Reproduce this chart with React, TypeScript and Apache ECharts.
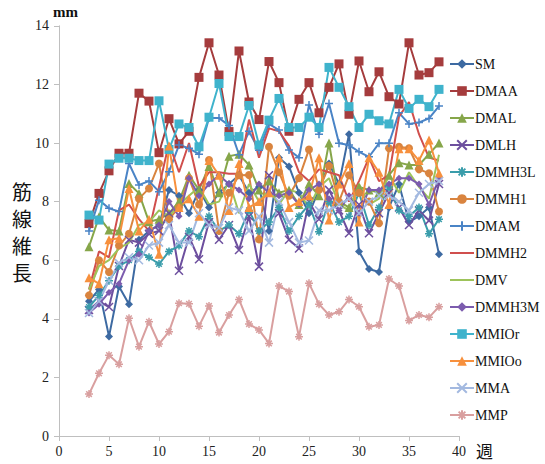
import React, { useEffect, useRef } from "react";
import * as echarts from "echarts";

const weeks = [3,4,5,6,7,8,9,10,11,12,13,14,15,16,17,18,19,20,21,22,23,24,25,26,27,28,29,30,31,32,33,34,35,36,37,38];

const seriesNames = ["SM","DMAA","DMAL","DMLH","DMMH3L","DMMH1","DMAM","DMMH2","DMV","DMMH3M","MMIOr","MMIOo","MMA","MMP"];

const SM = [4.6,5.0,3.4,5.1,4.5,6.7,7.0,7.2,8.4,8.2,7.6,8.4,7.8,8.3,8.6,8.9,8.3,8.5,7.0,9.5,9.2,8.3,7.6,8.4,9.3,8.6,10.3,6.3,5.7,5.6,7.8,8.6,7.3,7.5,7.8,6.2];
const DMAA = [7.25,8.28,9.05,9.65,9.65,11.7,11.43,9.67,10.83,9.97,10.4,12.24,13.42,12.32,10.39,13.14,11.4,10.8,12.78,12.06,10.4,11.49,12.06,11.03,11.9,12.7,10.98,12.8,11.75,12.43,11.58,11.33,13.42,12.32,12.4,12.77];
const DMAL = [6.46,7.48,7.03,7.0,8.62,8.28,7.31,7.4,7.6,8.0,8.9,8.4,9.2,8.3,9.55,9.62,9.25,8.4,8.7,8.3,8.4,7.9,8.6,8.2,10.0,8.0,7.8,8.5,8.4,8.3,8.9,9.33,9.25,9.25,9.62,10.0];
const DMLH = [4.3,4.6,4.4,5.8,6.7,6.6,6.9,7.0,7.6,5.64,6.8,6.03,7.3,6.7,7.2,6.35,7.5,5.78,8.9,7.6,6.7,6.4,8.0,7.4,8.4,7.7,6.92,7.9,6.92,7.6,8.3,7.8,7.2,7.7,7.35,8.6];
const DMMH3L = [4.4,4.8,5.3,5.8,6.0,6.3,6.1,5.87,6.3,6.5,7.0,6.8,7.5,7.0,7.2,6.9,7.7,7.0,7.3,7.8,7.0,7.5,7.9,6.97,8.0,7.3,7.5,8.3,7.2,7.8,8.5,7.7,7.5,7.8,6.9,7.4];
const DMMH1 = [4.8,6.0,5.6,6.5,6.9,8.1,8.45,9.3,7.4,7.8,8.8,7.9,9.42,7.0,8.3,8.9,8.91,6.71,9.87,9.0,8.2,8.8,9.78,8.4,9.22,8.0,8.9,8.3,8.0,7.26,9.82,9.87,9.82,9.1,8.97,7.66];
const DMAM = [7.0,8.05,7.77,7.66,9.3,8.57,8.7,8.34,9.02,9.93,9.82,9.62,10.85,10.85,10.6,9.6,10.4,9.75,10.65,10.44,9.76,9.5,11.3,10.3,11.35,9.99,9.93,9.7,9.53,9.99,9.99,11.03,10.65,10.7,10.84,11.26];
const DMMH2 = [5.0,6.3,6.1,7.7,7.9,7.4,7.0,8.5,10.0,9.0,10.0,8.5,9.0,9.0,8.95,8.95,10.8,9.5,10.5,10.4,9.9,9.0,8.7,9.1,9.0,8.9,8.0,8.7,9.5,8.7,8.9,10.9,11.4,10.3,9.5,9.4];
const DMV = [5.0,5.8,6.0,6.4,6.6,7.2,7.3,7.7,7.5,7.9,8.2,8.5,7.9,8.0,8.7,7.6,8.6,8.0,8.4,7.9,8.4,8.3,7.8,8.5,8.8,7.9,7.7,8.6,7.9,8.1,8.9,8.3,9.0,8.5,8.1,9.6];
const DMMH3M = [4.2,4.5,4.9,5.2,6.0,6.2,7.0,7.2,8.0,7.5,8.8,8.2,8.6,8.9,8.6,8.4,8.1,8.6,8.3,8.2,8.3,7.9,8.4,8.6,8.1,7.7,8.2,7.6,8.4,8.4,8.6,8.8,8.8,8.6,7.9,8.8];
const MMIOr = [7.54,7.37,9.28,9.48,9.48,9.4,9.4,11.44,9.78,10.65,10.53,9.87,10.88,12.03,10.22,10.22,11.28,9.93,10.78,11.52,10.53,10.53,10.88,10.53,12.58,11.9,11.24,10.53,10.98,10.76,10.65,11.83,11.18,11.49,11.24,11.83];
const MMIOo = [5.4,5.2,6.7,6.75,8.45,7.0,7.4,6.2,9.9,7.8,8.1,7.5,9.4,8.9,7.7,9.3,7.8,8.0,8.3,9.5,7.8,8.0,8.2,9.5,7.37,8.6,9.3,7.3,9.5,9.0,7.9,9.8,9.8,9.4,10.1,8.97];
const MMA = [4.2,4.6,5.3,5.9,6.1,6.0,6.5,6.6,7.2,6.6,6.6,7.6,7.2,7.1,7.8,7.7,7.0,7.5,6.6,8.0,7.3,6.6,6.67,7.7,7.7,7.9,8.1,7.6,8.0,8.2,8.2,8.0,7.7,8.3,8.6,8.7];
const MMP = [1.43,2.14,2.76,2.45,4.02,3.05,3.9,3.14,3.56,4.53,4.51,3.75,4.44,3.53,4.13,4.66,3.82,3.62,3.16,5.12,4.93,3.39,5.21,4.5,4.13,4.24,4.66,4.41,3.73,3.79,5.36,5.12,3.94,4.13,4.05,4.41];

const seriesValues = [SM, DMAA, DMAL, DMLH, DMMH3L, DMMH1, DMAM, DMMH2, DMV, DMMH3M, MMIOr, MMIOo, MMA, MMP];

const yTicks = [0, 2, 4, 6, 8, 10, 12, 14];
const xTicks = [0, 5, 10, 15, 20, 25, 30, 35, 40];

const X_PATH = "path://M1,1L9,9M9,1L1,9";
const PLUS_PATH = "path://M5,0L5,10M0,5L10,5";
const STAR_PATH = "path://M5,0L5,10M0,5L10,5M1.5,1.5L8.5,8.5M8.5,1.5L1.5,8.5";

const styles = [
  { color: "#3d6aa2", symbol: "diamond", size: 8, stroke: false },
  { color: "#a53c3d", symbol: "rect", size: 9, stroke: false },
  { color: "#86a64a", symbol: "triangle", size: 9, stroke: false },
  { color: "#6d4f9e", symbol: X_PATH, size: 8, stroke: true },
  { color: "#3a9dab", symbol: STAR_PATH, size: 8, stroke: true },
  { color: "#d9843f", symbol: "circle", size: 8, stroke: false },
  { color: "#4a84c6", symbol: PLUS_PATH, size: 8, stroke: true },
  { color: "#d04f4d", symbol: "none", size: 0, stroke: false },
  { color: "#9dc35a", symbol: "none", size: 0, stroke: false },
  { color: "#7c5cae", symbol: "diamond", size: 7, stroke: false },
  { color: "#3fb3cc", symbol: "rect", size: 9, stroke: false },
  { color: "#f7903d", symbol: "triangle", size: 9, stroke: false },
  { color: "#a3b9e0", symbol: X_PATH, size: 8, stroke: true },
  { color: "#d99f9f", symbol: STAR_PATH, size: 8, stroke: true },
];

const FONT = "'Liberation Serif', 'DejaVu Serif', serif";

export default function App() {
  const ref = useRef<HTMLDivElement>(null);
  useEffect(() => {
    if (!ref.current) return;
    const chart = echarts.init(ref.current, null, { renderer: "svg" });
    const series = seriesNames.map((name, i) => {
      const s = styles[i];
      return {
        name,
        type: "line",
        data: weeks.map((w, j) => [w, seriesValues[i][j]]),
        symbol: s.symbol,
        symbolSize: s.size,
        showSymbol: s.symbol !== "none",
        lineStyle: { color: s.color, width: 2 },
        itemStyle: {
          color: s.color,
          borderColor: s.color,
          borderWidth: s.stroke ? 1.5 : 0,
        },
        emphasis: { disabled: true },
      };
    });
    const legendData = seriesNames.map((name, i) =>
      styles[i].symbol === "none"
        ? { name, itemStyle: { color: "rgba(0,0,0,0)", borderWidth: 0, opacity: 0 } }
        : { name }
    );
    chart.setOption({
      animation: false,
      grid: { left: 59, right: 86, top: 25.8, bottom: 28, containLabel: false },
      xAxis: {
        type: "value",
        min: 0,
        max: 40,
        interval: 5,
        axisLine: { show: true, lineStyle: { color: "#bfbfbf", width: 1 } },
        axisTick: { show: true, length: 5, lineStyle: { color: "#bfbfbf" } },
        splitLine: { show: false },
        axisLabel: {
          color: "#222",
          fontFamily: FONT,
          fontSize: 14,
          margin: 8,
          formatter: (v: number) => (xTicks.includes(v) ? String(v) : ""),
        },
      },
      yAxis: {
        type: "value",
        min: 0,
        max: 14,
        interval: 2,
        axisLine: { show: true, lineStyle: { color: "#bfbfbf", width: 1 } },
        axisTick: { show: true, length: 5, lineStyle: { color: "#bfbfbf" } },
        splitLine: { show: false },
        axisLabel: {
          color: "#222",
          fontFamily: FONT,
          fontSize: 14,
          margin: 10,
          formatter: (v: number) => (yTicks.includes(v) ? String(v) : ""),
        },
      },
      legend: {
        orient: "vertical",
        left: 444,
        top: 52,
        itemWidth: 24,
        itemHeight: 12,
        itemGap: 13,
        textStyle: { fontFamily: FONT, fontSize: 14, color: "#111", padding: [0, 0, 0, -4] },
        data: legendData,
      },
      graphic: [
        {
          type: "text",
          left: 12,
          top: 178,
          style: {
            text: "筋\n線\n維\n長",
            font: "20px 'Noto Sans CJK JP'",
            fill: "#111",
            lineHeight: 27,
          },
        },
        {
          type: "text",
          left: 53,
          top: 4,
          style: { text: "mm", font: "bold 15px " + FONT, fill: "#111" },
        },
        {
          type: "text",
          left: 476,
          top: 442,
          style: { text: "週", font: "17px 'Noto Sans CJK JP'", fill: "#111" },
        },
      ],
      series,
    });
    return () => chart.dispose();
  }, []);
  return (
    <div
      ref={ref}
      style={{ position: "fixed", left: 0, top: 0, width: 545, height: 464, background: "#fff" }}
    />
  );
}
